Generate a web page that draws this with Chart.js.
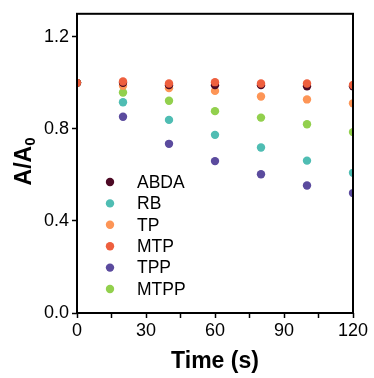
<!DOCTYPE html>
<html>
<head>
<meta charset="utf-8">
<script src="https://cdn.jsdelivr.net/npm/chart.js@4"></script>
<style>
html,body{margin:0;padding:0;background:#fff;}
#wrap{width:374px;height:378px;position:relative;}
</style>
</head>
<body>
<div id="wrap"><canvas id="c" width="374" height="378"></canvas></div>
<script>
const times = [0, 20, 40, 60, 80, 100, 120];
const seriesNames = ['ABDA', 'RB', 'TP', 'MTP', 'TPP', 'MTPP'];
const abda = [1.00, 1.00, 0.99, 0.99, 0.99, 0.985, 0.985];
const rb   = [1.00, 0.916, 0.839, 0.774, 0.719, 0.662, 0.609];
const tp   = [1.00, 0.987, 0.977, 0.965, 0.941, 0.928, 0.911];
const mtp  = [1.00, 1.006, 0.997, 1.003, 0.997, 0.997, 0.991];
const tpp  = [1.00, 0.853, 0.735, 0.660, 0.603, 0.554, 0.521];
const mtpp = [1.00, 0.958, 0.922, 0.877, 0.849, 0.820, 0.786];
const seriesColors = ['#4d0a25', '#4fbdb3', '#fd9556', '#ee5f3e', '#5b4b9e', '#92d04d'];
// lower number = drawn on top
const drawOrder = [2, 6, 3, 0, 5, 4];
const xTicks = [0, 15, 30, 45, 60, 75, 90, 105, 120];
const xLabels = [0, 30, 60, 90, 120];
const yTicks = [0, 0.4, 0.8, 1.2];
const xTitle = 'Time (s)';
const yTitleMain = 'A/A';
const yTitleSub = '0';

const allValues = [abda, rb, tp, mtp, tpp, mtpp];
const datasets = seriesNames.map((name, i) => ({
  label: name,
  data: times.map((t, j) => ({x: t, y: allValues[i][j]})),
  backgroundColor: seriesColors[i],
  borderColor: seriesColors[i],
  pointRadius: 4.2,
  pointHoverRadius: 4.2,
  borderWidth: 0,
  showLine: false,
  clip: 0,
  order: drawOrder[i]
}));

const FONT = 'Liberation Sans, Arial, sans-serif';

const decor = {
  id: 'decor',
  afterDraw(chart) {
    const ctx = chart.ctx;
    const a = chart.chartArea;
    ctx.save();
    // frame
    ctx.strokeStyle = '#000';
    ctx.lineWidth = 2;
    ctx.strokeRect(a.left, a.top, a.right - a.left, a.bottom - a.top);
    // legend
    ctx.font = '17.5px ' + FONT;
    ctx.textBaseline = 'middle';
    ctx.textAlign = 'left';
    const lx = 110, tx = 137, ly0 = 182, dy = 21.4;
    seriesNames.forEach((n, i) => {
      const y = ly0 + i * dy;
      ctx.fillStyle = seriesColors[i];
      ctx.beginPath();
      ctx.arc(lx, y, 4.2, 0, Math.PI * 2);
      ctx.fill();
      ctx.fillStyle = '#000';
      ctx.fillText(n, tx, y + 1);
    });
    // x title
    ctx.font = 'bold 23px ' + FONT;
    ctx.textAlign = 'center';
    ctx.fillStyle = '#000';
    ctx.fillText(xTitle, (a.left + a.right) / 2, 362);
    // y title with subscript
    ctx.translate(25, (a.top + a.bottom) / 2 - 2);
    ctx.rotate(-Math.PI / 2);
    ctx.font = 'bold 23px ' + FONT;
    const wMain = ctx.measureText(yTitleMain).width;
    ctx.font = 'bold 15px ' + FONT;
    const wSub = ctx.measureText(yTitleSub).width;
    const start = -(wMain + wSub) / 2;
    ctx.textAlign = 'left';
    ctx.font = 'bold 23px ' + FONT;
    ctx.fillText(yTitleMain, start, 0);
    ctx.font = 'bold 15px ' + FONT;
    ctx.fillText(yTitleSub, start + wMain, 6);
    ctx.restore();
  }
};

new Chart(document.getElementById('c'), {
  type: 'scatter',
  data: {datasets},
  options: {
    responsive: false,
    animation: false,
    events: [],
    layout: {padding: {top: 13, right: 21, left: 0, bottom: 0}},
    plugins: {legend: {display: false}, tooltip: {enabled: false}},
    scales: {
      x: {
        type: 'linear', min: 0, max: 120,
        afterBuildTicks: s => { s.ticks = xTicks.map(v => ({value: v})); },
        afterFit: s => { s.height = 65; },
        grid: {drawOnChartArea: false, drawTicks: true, tickLength: 5, tickColor: '#000', tickWidth: 1.5},
        border: {display: false},
        ticks: {
          color: '#000', font: {family: FONT, size: 18}, padding: 2, maxRotation: 0, autoSkip: false,
          callback: v => xLabels.includes(v) ? String(v) : ''
        }
      },
      y: {
        type: 'linear', min: 0, max: 1.3,
        afterBuildTicks: s => { s.ticks = yTicks.map(v => ({value: v})); },
        afterFit: s => { s.width = 77; },
        grid: {drawOnChartArea: false, drawTicks: true, tickLength: 5, tickColor: '#000', tickWidth: 1.5},
        border: {display: false},
        ticks: {
          color: '#000', font: {family: FONT, size: 18}, padding: 3,
          callback: v => Number(v).toFixed(1)
        }
      }
    }
  },
  plugins: [decor]
});
</script>
</body>
</html>
